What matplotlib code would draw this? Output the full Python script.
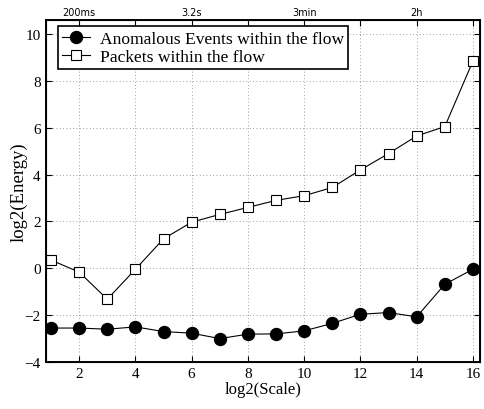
import numpy as np
import matplotlib
matplotlib.use('agg')
import matplotlib.pyplot as plt

# data
scale = [1, 2, 3, 4, 5, 6, 7, 8, 9, 10, 11, 12, 13, 14, 15, 16]
anomalous = [-2.55, -2.55, -2.6, -2.5, -2.7, -2.77, -3.0, -2.81, -2.8, -2.67,
             -2.35, -1.96, -1.89, -2.07, -0.68, -0.04]
packets = [0.35, -0.16, -1.32, -0.04, 1.26, 1.97, 2.3, 2.6, 2.9, 3.1,
           3.45, 4.2, 4.9, 5.65, 6.05, 8.85]
top_ticks = [2, 4, 6, 8, 10, 12, 14, 16]
top_labels = ['200ms', '', '3.2s', '', '3min', '', '2h', '']

plt.rcParams['font.family'] = ['Liberation Serif', 'DejaVu Serif']

fig = plt.figure(figsize=(4.84, 4.10), dpi=100)
ax = fig.add_axes([0.0944, 0.1146, 0.8973, 0.8342])

ax.plot(scale, anomalous, color='black', lw=0.8, marker='o', ms=8.6,
        mfc='black', mec='black', label='Anomalous Events within the flow')
ax.plot(scale, packets, color='black', lw=0.8, marker='s', ms=7.2,
        mfc='white', mec='black', mew=0.8, label='Packets within the flow')

ax.set_xlim(0.81, 16.25)
ax.set_ylim(-4, 10.6)
ax.set_xticks([2, 4, 6, 8, 10, 12, 14, 16])
ax.set_yticks([-4, -2, 0, 2, 4, 6, 8, 10])
ax.set_yticklabels(['\u22124', '\u22122', '0', '2', '4', '6', '8', '10'])
ax.grid(color='grey', linestyle=(0, (1, 3)), linewidth=0.6)
ax.tick_params(direction='in', labelsize=11, length=4, right=True)
for s in ax.spines.values():
    s.set_linewidth(1.4)

ax.set_xlabel('log2(Scale)', fontsize=12, labelpad=1)
ax.set_ylabel('log2(Energy)', fontsize=13.5, labelpad=-2)

top = ax.twiny()
top.set_xlim(ax.get_xlim())
top.set_xticks(top_ticks)
top.set_xticklabels(top_labels, fontfamily='DejaVu Sans', fontsize=7)
top.tick_params(direction='in', length=4, pad=2)

lgd = ax.legend(loc='upper left', bbox_to_anchor=(0.028, 0.982),
                fontsize=12.6, frameon=True, fancybox=False,
                borderpad=0.25, handlelength=1.6, handletextpad=0.55,
                labelspacing=0.1, borderaxespad=0)
lgd.get_frame().set_edgecolor('black')
lgd.get_frame().set_linewidth(1.2)
lgd.get_frame().set_alpha(1)

fig.savefig('out.png', dpi=100)
